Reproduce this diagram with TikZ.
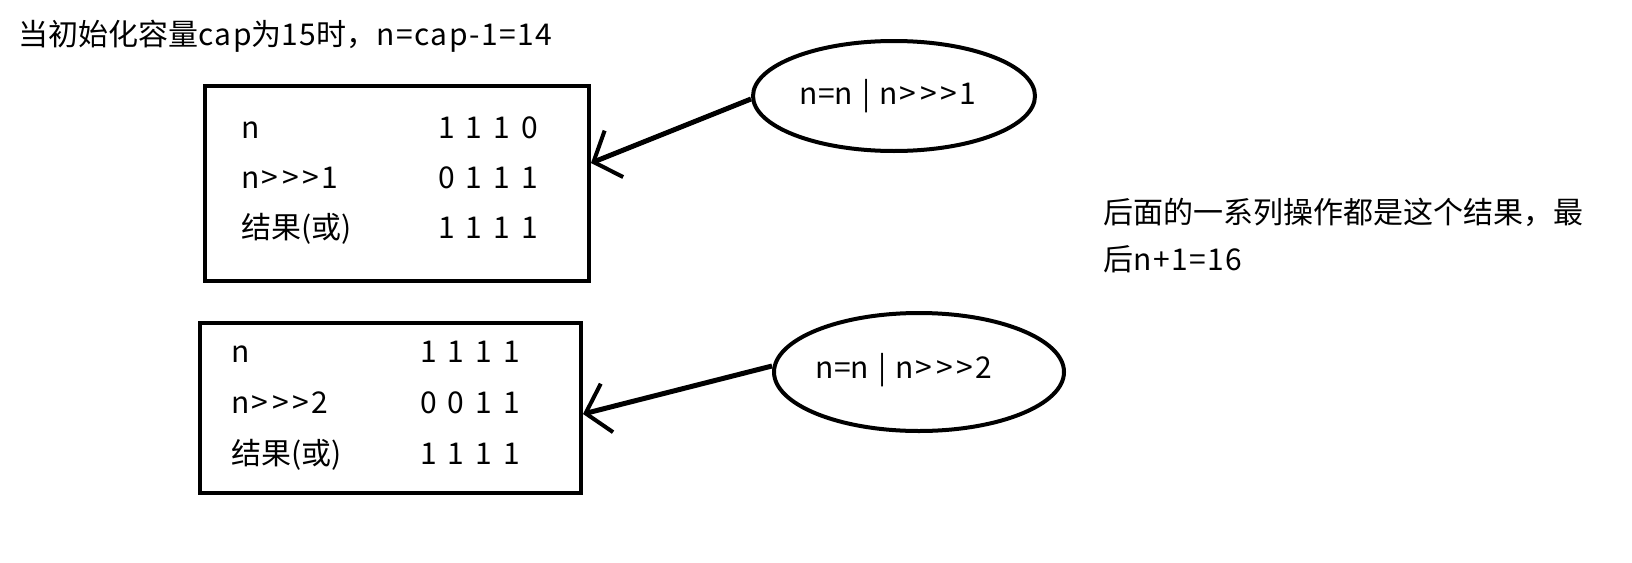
\documentclass[tikz,border=0pt]{standalone}
\usepackage{fontspec}
\setmainfont{Noto Sans CJK SC}
\newfontfamily\latwide{Noto Sans CJK SC}[LetterSpace=5]
\usetikzlibrary{shapes.geometric,arrows.meta}
\newcommand\mygt{\hspace{2pt}>\hspace{2pt}}
\newcommand\mybar{\hspace{9pt}|\hspace{9pt}}
\newcommand\bits[4]{#1\hspace{11pt}#2\hspace{11pt}#3\hspace{11pt}#4}
\tikzset{
  txt/.style={inner sep=0pt, font=\fontsize{30pt}{47pt}\selectfont},
  boxnode/.style={draw=black, line width=4pt, rectangle, inner sep=0pt},
  ellnode/.style={draw=black, line width=4pt, ellipse, inner sep=0pt},
  arr/.style={line width=5pt, -{Straight Barb[length=22pt,width=50pt,line width=4pt]}},
}
\begin{document}
\begin{tikzpicture}[x=1pt,y=-1pt]
\useasboundingbox (0,0) rectangle (1632,562);
% title
\node[txt, anchor=base west] (title) at (18,45) {当初始化容量{\latwide cap}为{\latwide 15}时，{\latwide n=cap-1=14}};
% box 1
\node[boxnode, minimum width=384pt, minimum height=195pt] (b1) at (397,183.5) {};
\node[txt, anchor=base west] (l11) at (241,138) {n};
\node[txt, anchor=base west] (l12) at (241,188) {n\mygt\mygt\mygt 1};
\node[txt, anchor=base west] (l13) at (241,238) {结果(或)};
\node[txt, anchor=base east] (v11) at (538,138) {\bits1110};
\node[txt, anchor=base east] (v12) at (538,188) {\bits0111};
\node[txt, anchor=base east] (v13) at (538,238) {\bits1111};
% ellipse 1
\node[ellnode, minimum width=282pt, minimum height=110pt] (e1) at (894,96) {};
\node[txt] (t1) at (888,96) {n=n\mybar n\mygt\mygt\mygt 1};
\draw[arr] ([yshift=-3pt]e1.west) -- ([yshift=20.5pt]b1.east);
% box 2
\node[boxnode, minimum width=381pt, minimum height=170pt] (b2) at (390.5,408) {};
\node[txt, anchor=base west] (l21) at (231,362) {n};
\node[txt, anchor=base west] (l22) at (231,413) {n\mygt\mygt\mygt 2};
\node[txt, anchor=base west] (l23) at (231,464) {结果(或)};
\node[txt, anchor=base east] (v21) at (520,362) {\bits1111};
\node[txt, anchor=base east] (v22) at (520,413) {\bits0011};
\node[txt, anchor=base east] (v23) at (520,464) {\bits1111};
% ellipse 2
\node[ellnode, minimum width=290pt, minimum height=118pt] (e2) at (919,372) {};
\node[txt] (t2) at (904,370) {n=n\mybar n\mygt\mygt\mygt 2};
\draw[arr] ([yshift=6pt]e2.west) -- ([yshift=-6pt]b2.east);
% right note
\node[txt, anchor=base west] (note1) at (1103,223) {后面的一系列操作都是这个结果，最};
\node[txt, anchor=base west] (note2) at (1103,270) {后{\latwide n+1=16}};
\end{tikzpicture}
\end{document}
